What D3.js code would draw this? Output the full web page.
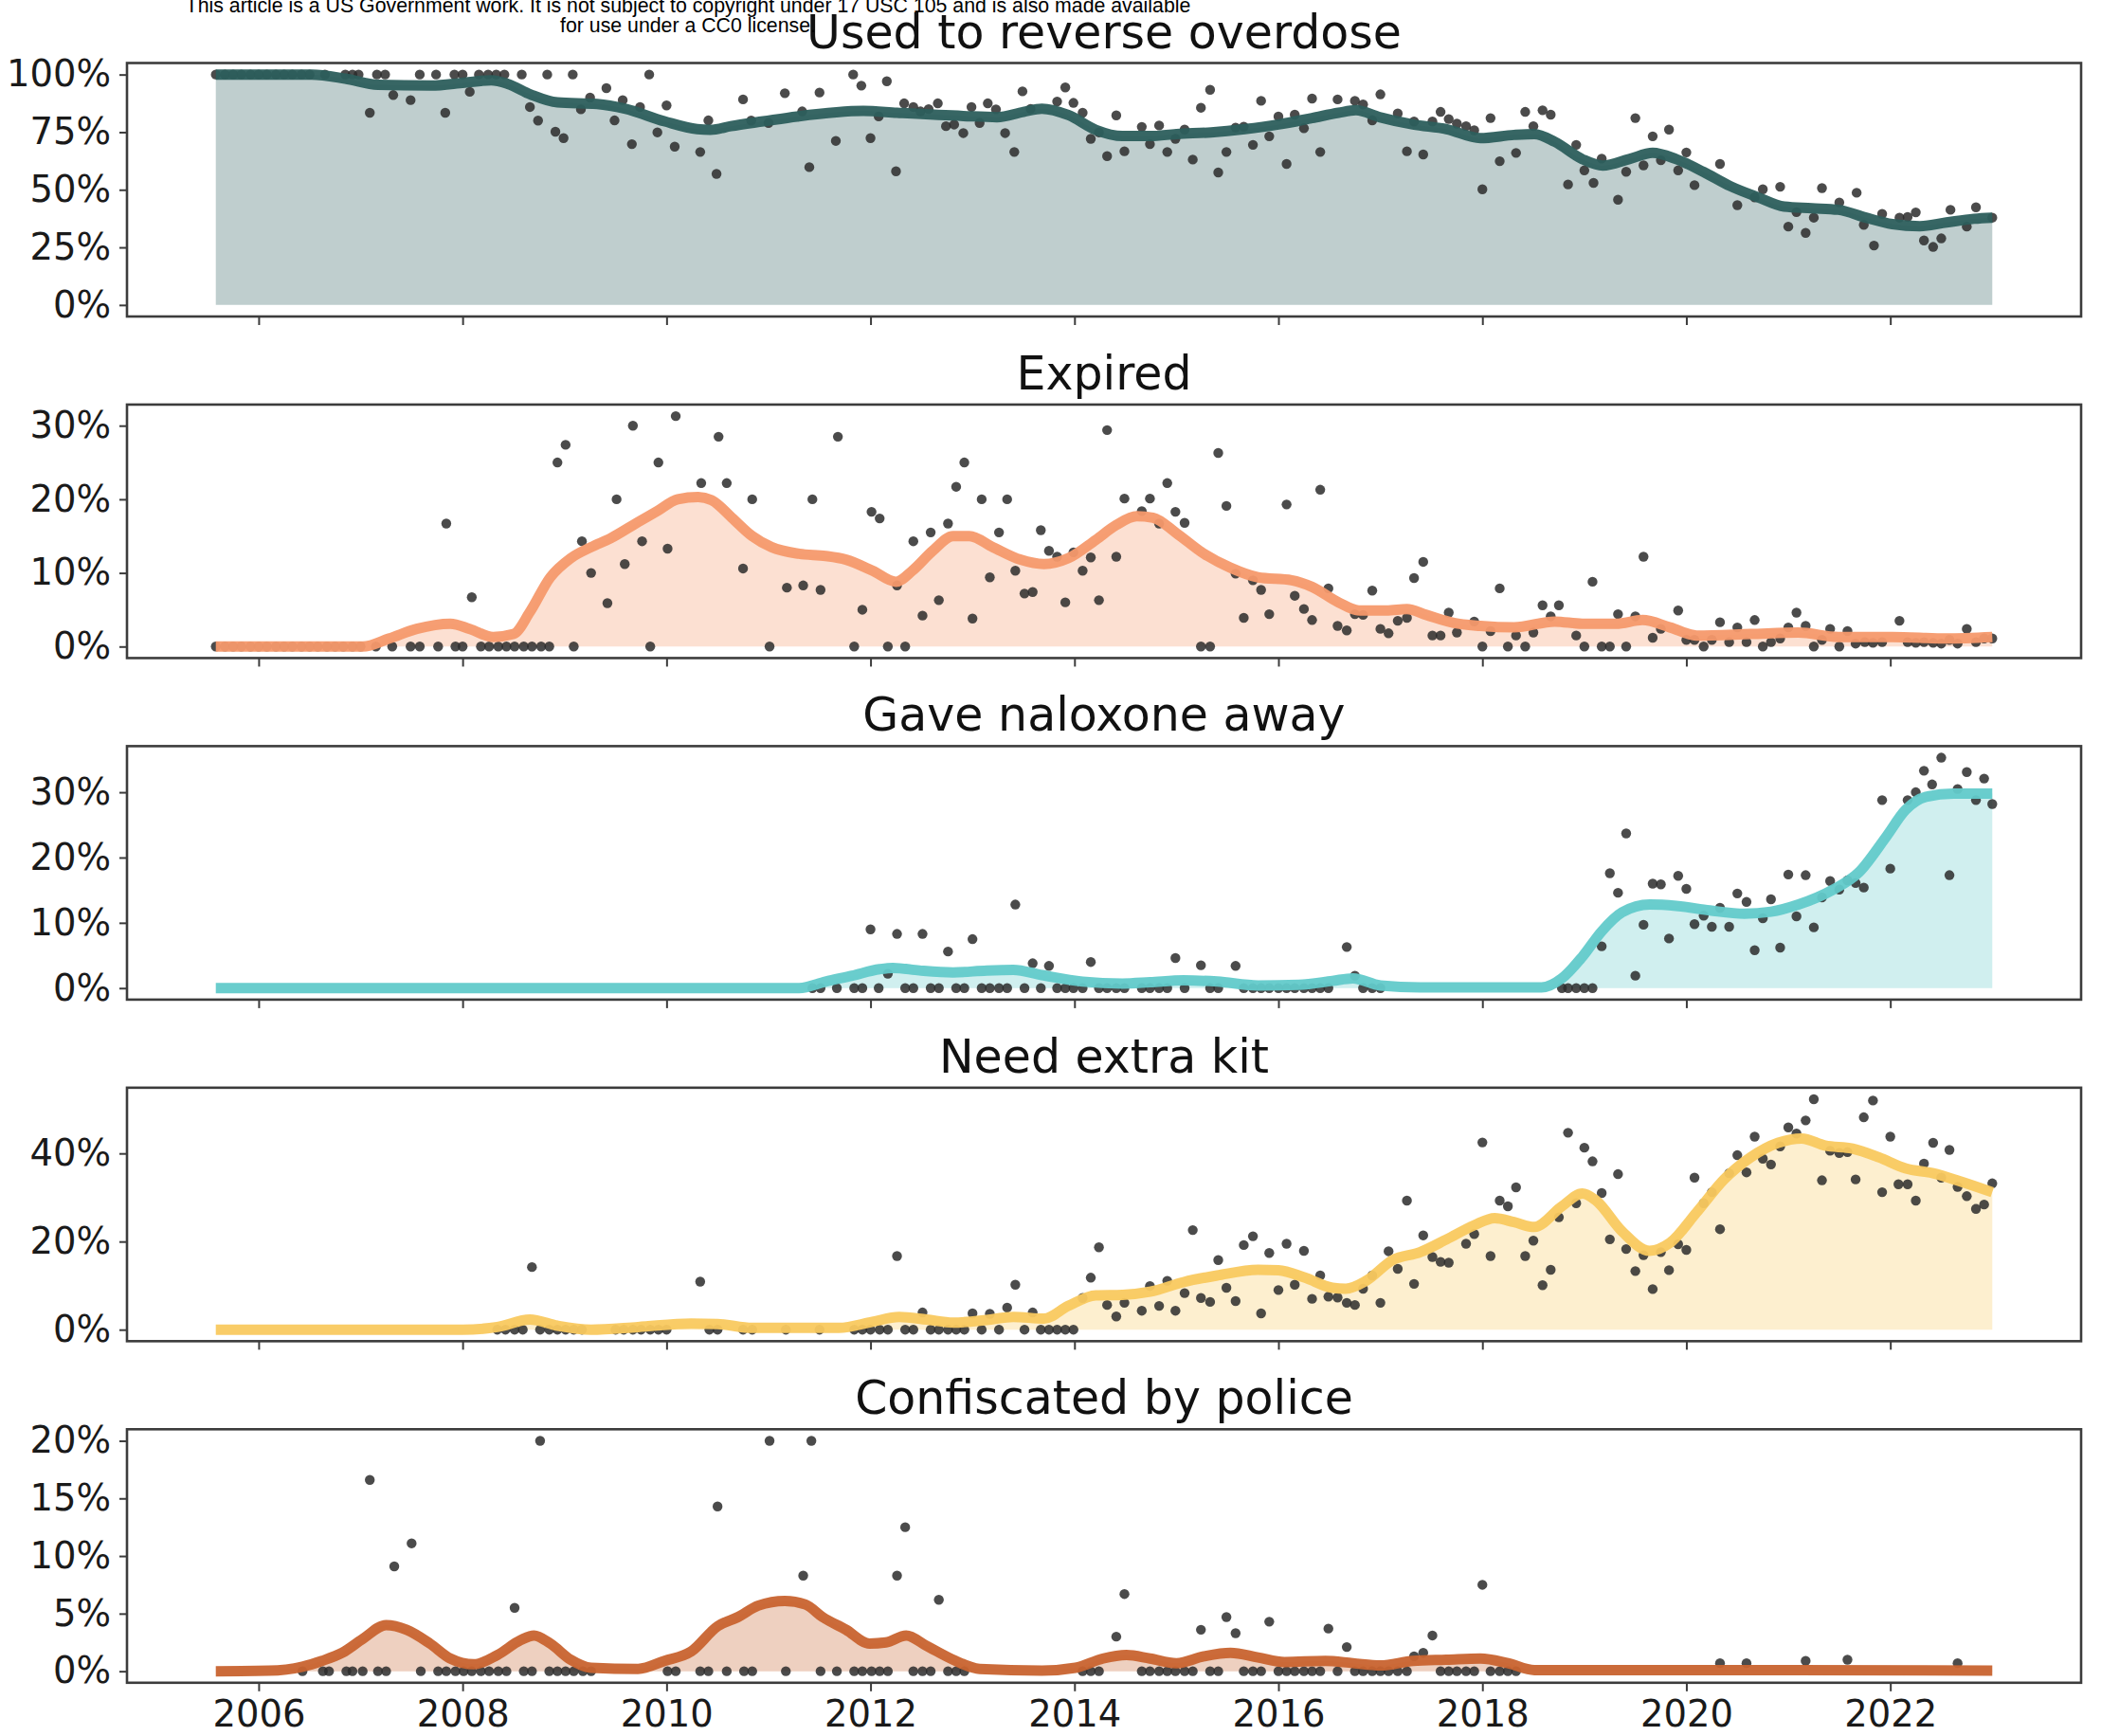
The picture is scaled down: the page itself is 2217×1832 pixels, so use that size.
<!DOCTYPE html>
<html>
<head>
<meta charset="utf-8">
<script src="https://cdn.jsdelivr.net/npm/d3@7"></script>
<style>
  html, body { margin: 0; padding: 0; background: #fff; }
  svg { display: block; }
</style>
</head>
<body>
<svg id="chart" width="2217" height="1832"></svg>
<script>
// ---------------- DATA ----------------
const titles = ["Used to reverse overdose", "Expired", "Gave naloxone away", "Need extra kit", "Confiscated by police"];
const xTicks = [2006, 2008, 2010, 2012, 2014, 2016, 2018, 2020, 2022];
const yTicks1 = [0, 25, 50, 75, 100];
const yTicks2 = [0, 10, 20, 30];
const yTicks3 = [0, 10, 20, 30];
const yTicks4 = [0, 20, 40];
const yTicks5 = [0, 5, 10, 15, 20];
const noteLines = ["This article is a US Government work. It is not subject to copyright under 17 USC 105 and is also made available",
                   "for use under a CC0 license."];

// monthly survey points [year, percent]
const dots1 = [[2005.58,100],[2005.67,100],[2005.75,100],[2005.83,100],[2005.92,100],[2006.0,100],[2006.08,100],[2006.17,100],[2006.25,100],[2006.33,100],[2006.42,100],[2006.5,100],
[2006.65,100],[2006.85,100],[2006.92,100],[2006.98,100],[2007.09,83.4],[2007.16,100],[2007.24,100],[2007.32,91.1],[2007.49,88.9],[2007.58,100],[2007.74,100],[2007.83,83.4],[2007.92,100],[2008.0,100],[2008.07,92.5],[2008.16,100],[2008.25,100],[2008.33,100],[2008.41,100],[2008.58,100],[2008.66,85.9],[2008.74,80.0],[2008.83,100],[2008.91,75.2],[2008.99,72.4],[2009.08,100],[2009.16,84.9],[2009.25,90.0],[2009.41,94.1],[2009.49,80.1],[2009.57,88.9],[2009.66,69.8],[2009.74,85.9],[2009.83,100],[2009.91,74.9],[2010.0,86.6],[2010.08,68.7],[2010.33,66.4],[2010.41,80.1],[2010.49,56.9],[2010.75,89.2],[2010.83,80],[2011.0,79],[2011.16,91.9],[2011.33,84],[2011.4,59.8],[2011.5,92.2],[2011.66,71.2],[2011.83,100],[2011.91,95.2],[2012.0,72.4],[2012.08,81.8],[2012.16,97.1],[2012.25,58.0],[2012.33,87.5],[2012.42,85.9],[2012.49,84],[2012.57,85],[2012.66,87.5],[2012.74,77.6],[2012.82,78.3],[2012.91,74.6],[2012.99,85.9],[2013.07,79],[2013.15,87.5],[2013.23,84.9],[2013.32,74.6],[2013.41,66.4],[2013.49,92.7],[2013.57,85.1],
[2013.83,88.3],[2013.91,94.4],[2013.99,87.7],[2014.08,83.4],[2014.16,72.1],[2014.24,74.9],[2014.32,64.6],[2014.41,82.3],[2014.49,66.7],[2014.66,77.3],[2014.74,69.8],[2014.83,77.9],[2014.91,66.4],[2014.99,72.1],[2015.08,76.1],[2015.16,63.1],[2015.24,85.6],[2015.33,93.4],[2015.41,57.5],[2015.49,66.4],[2015.58,77.0],[2015.66,77.4],[2015.75,69.5],[2015.83,88.6],[2015.91,73.2],[2016.0,81.8],[2016.08,61.2],[2016.16,82.6],[2016.25,76.7],[2016.33,89.6],[2016.41,66.4],[2016.58,89.2],[2016.75,88.6],[2016.83,87.0],[2016.92,80.1],[2017.0,91.4],[2017.17,83.1],[2017.26,66.7],[2017.33,79.6],[2017.42,65.3],[2017.51,79.6],[2017.59,83.8],[2017.67,80.7],[2017.75,78.7],[2017.84,77.6],[2017.92,75.8],[2018.0,50.2],[2018.08,81.1],[2018.17,62.4],[2018.33,66.0],[2018.42,83.8],[2018.5,77.6],[2018.59,84.5],[2018.67,82.6],[2018.84,52.3],[2018.92,69.5],[2019.0,58.4],[2019.09,53.0],[2019.17,63.5],[2019.33,45.7],[2019.41,57.8],[2019.5,81.1],[2019.58,60.6],[2019.67,73.2],[2019.75,62.8],[2019.83,76.1],[2019.92,58.4],[2020.0,66.2],[2020.08,52.0],[2020.33,61.2],[2020.5,43.3],[2020.67,46.7],[2020.75,50.2],[2020.92,51.3],[2021.0,34.0],[2021.08,40.3],[2021.17,31.3],[2021.25,37.9],[2021.33,50.7],[2021.5,44.5],[2021.67,48.7],[2021.74,34.8],[2021.84,25.8],[2021.92,39.5],[2022.09,37.9],[2022.17,38.2],[2022.25,40.2],[2022.33,28.0],[2022.42,25.2],[2022.5,28.9],[2022.59,41.3],[2022.75,34.0],[2022.84,42.4],[2023.0,37.9]];

const dots2 = [[2005.58,0],[2005.67,0],[2005.75,0],[2005.83,0],[2005.92,0],[2006.0,0],[2006.08,0],[2006.17,0],[2006.25,0],[2006.33,0],[2006.42,0],[2006.5,0],[2006.58,0],[2006.67,0],[2006.75,0],[2006.83,0],[2006.92,0],[2007.0,0],
[2007.15,0],[2007.31,0],[2007.49,0],[2007.58,0],[2007.76,0],[2007.84,16.7],[2007.93,0],[2008.0,0],[2008.09,6.7],[2008.18,0],[2008.26,0],[2008.35,0],[2008.43,0],[2008.51,0],[2008.6,0],[2008.68,0],[2008.77,0],[2008.85,0],[2008.93,25.0],[2009.01,27.4],[2009.09,0],[2009.17,14.3],[2009.26,10.0],[2009.42,5.9],[2009.51,20.0],[2009.59,11.2],[2009.67,30.0],[2009.76,14.3],[2009.84,0],[2009.92,25.0],[2010.01,13.3],[2010.09,31.3],[2010.34,22.2],[2010.51,28.5],[2010.59,22.2],[2010.75,10.6],[2010.84,20.0],[2011.01,0],[2011.18,8.0],[2011.34,8.3],[2011.43,20.0],[2011.51,7.7],[2011.68,28.5],[2011.84,0],[2011.92,5.0],[2012.01,18.3],[2012.09,17.4],[2012.17,0],[2012.26,8.3],[2012.34,0],[2012.42,14.3],[2012.51,4.2],[2012.59,15.5],[2012.67,6.3],[2012.76,16.7],[2012.84,21.7],[2012.92,25.0],[2013.0,3.8],[2013.09,20.0],[2013.17,9.4],[2013.26,15.5],[2013.34,20.0],[2013.42,10.3],[2013.51,7.2],[2013.59,7.4],[2013.67,15.8],[2013.75,13.0],[2013.83,12.2],[2013.91,6.0],[2013.99,12.8],[2014.08,10.3],[2014.16,12.1],[2014.24,6.3],[2014.32,29.4],[2014.41,12.2],[2014.49,20.1],[2014.66,18.4],[2014.74,20.1],[2014.83,16.7],[2014.91,22.2],[2014.99,18.3],[2015.08,16.8],[2015.24,0],[2015.33,0],[2015.41,26.3],[2015.49,19.1],[2015.58,9.9],[2015.66,3.9],[2015.75,9.0],[2015.83,7.7],[2015.91,4.4],[2016.08,19.3],[2016.16,6.9],[2016.25,5.1],[2016.33,3.6],[2016.41,21.3],[2016.49,7.9],[2016.58,2.8],[2016.67,2.2],[2016.75,4.4],[2016.83,4.3],[2016.92,7.6],[2017.0,2.4],[2017.08,1.8],[2017.17,3.5],[2017.26,3.9],[2017.33,9.3],[2017.42,11.5],[2017.51,1.5],[2017.59,1.5],[2017.67,4.6],[2017.75,1.9],[2017.92,3.4],[2018.0,0],[2018.08,2.1],[2018.17,7.9],[2018.25,0],[2018.33,1.5],[2018.42,0],[2018.5,1.9],[2018.59,5.6],[2018.67,4.1],[2018.75,5.6],[2018.92,1.5],[2019.0,0],[2019.08,8.8],[2019.17,0],[2019.25,0],[2019.33,4.4],[2019.41,0],[2019.5,4.1],[2019.58,12.2],[2019.67,1.2],[2019.75,2.4],[2019.92,4.9],[2020.0,0.9],[2020.08,0.9],[2020.17,0],[2020.25,0.9],[2020.33,3.3],[2020.42,0.6],[2020.5,2.6],[2020.59,0.6],[2020.67,3.6],[2020.75,0],[2020.83,0.6],[2020.92,1.1],[2021.0,2.6],[2021.08,4.6],[2021.17,2.8],[2021.25,0],[2021.33,0.9],[2021.41,2.4],[2021.5,0],[2021.58,2.1],[2021.66,0.4],[2021.75,0.6],[2021.83,0.5],[2021.92,0.6],[2022.09,3.5],[2022.17,0.6],[2022.25,0.5],[2022.33,0.6],[2022.42,0.5],[2022.5,0.4],[2022.58,0.9],[2022.66,0.4],[2022.75,2.4],[2022.84,0.6],[2022.92,1.1],[2023.0,1.1]];

const dots3 = [[2011.43,0],[2011.51,0],[2011.67,0],[2011.84,0],[2011.92,0],[2012.0,9.0],[2012.08,0],[2012.17,2.2],[2012.26,8.3],[2012.34,0],[2012.42,0],[2012.51,8.3],[2012.59,0],[2012.67,0],[2012.76,5.6],[2012.84,0],[2012.92,0],[2013.0,7.5],[2013.09,0],[2013.17,0],[2013.26,0],[2013.34,0],[2013.42,12.8],[2013.51,0],[2013.59,3.8],[2013.67,0],[2013.75,3.4],[2013.83,0],[2013.91,0],[2013.99,0],[2014.08,0],[2014.16,4.0],[2014.24,0],[2014.32,0],[2014.41,0],[2014.49,0],[2014.66,0],[2014.74,0],[2014.83,0],[2014.91,0],[2014.99,4.6],[2015.08,0],[2015.24,3.5],[2015.33,0],[2015.41,0],[2015.58,3.4],[2015.66,0],[2015.75,0],[2015.83,0],[2015.91,0],[2016.0,0],[2016.08,0],[2016.16,0],[2016.25,0],[2016.33,0],[2016.41,0],[2016.49,0],[2016.67,6.3],[2016.75,1.9],[2016.83,0],[2016.92,0],[2017.0,0],[2018.78,0],[2018.84,0],[2018.92,0],[2019.0,0],[2019.08,0],[2019.17,6.4],[2019.25,17.6],[2019.33,14.6],[2019.41,23.7],[2019.5,1.9],[2019.58,9.7],[2019.67,16.0],[2019.75,15.9],[2019.83,7.6],[2019.92,17.2],[2020.0,15.2],[2020.08,9.8],[2020.17,11.1],[2020.25,9.4],[2020.33,12.3],[2020.42,9.4],[2020.5,14.5],[2020.59,13.2],[2020.67,5.8],[2020.75,10.7],[2020.83,13.6],[2020.92,6.2],[2021.0,17.4],[2021.08,11.0],[2021.17,17.3],[2021.25,9.3],[2021.33,13.9],[2021.41,16.4],[2021.5,15.1],[2021.58,16.5],[2021.66,16.1],[2021.74,15.4],[2021.92,28.8],[2022.0,18.3],[2022.17,28.8],[2022.25,30.0],[2022.33,33.3],[2022.41,31.2],[2022.5,35.3],[2022.58,17.3],[2022.66,30.5],[2022.75,33.1],[2022.84,28.8],[2022.92,32.1],[2023.0,28.2]];

const dots4 = [[2008.34,0],[2008.42,0],[2008.51,0],[2008.59,0],[2008.68,14.2],[2008.76,0],[2008.85,0],[2008.93,0],[2009.01,0],[2009.09,0],[2009.17,0],[2009.5,0],[2009.58,0],[2009.67,0],[2009.75,0],[2009.84,0],[2009.92,0],[2010.0,0],[2010.33,10.9],[2010.42,0],[2010.5,0],[2010.75,0],[2010.84,0],[2011.17,0],[2011.5,0],[2011.84,0],[2011.92,0],[2012.0,0],[2012.09,0],[2012.17,0],[2012.26,16.7],[2012.34,0],[2012.42,0],[2012.51,3.9],[2012.59,0],[2012.67,0],[2012.76,0],[2012.84,0],[2012.92,0],[2013.0,3.7],[2013.09,0],[2013.17,3.6],[2013.26,0],[2013.34,5.0],[2013.42,10.2],[2013.51,0],[2013.59,3.9],[2013.67,0],[2013.75,0],[2013.83,0],[2013.91,0],[2013.99,0],
[2014.08,7.2],[2014.16,11.8],[2014.24,18.7],[2014.32,5.6],[2014.41,3.0],[2014.49,6.1],[2014.66,4.3],[2014.74,9.9],[2014.83,5.4],[2014.91,11.1],[2014.99,4.3],[2015.08,8.3],[2015.16,22.6],[2015.24,7.2],[2015.33,6.3],[2015.41,15.8],[2015.49,9.5],[2015.58,6.5],[2015.66,19.2],[2015.75,21.2],[2015.83,3.7],[2015.91,17.4],[2016.0,9.0],[2016.08,19.5],[2016.16,10.2],[2016.25,17.9],[2016.33,7.0],[2016.41,12.3],[2016.49,7.5],[2016.58,7.3],[2016.67,6.1],[2016.75,5.6],[2016.83,9.3],[2016.92,12.3],[2017.0,6.1],[2017.08,17.8],[2017.17,13.8],[2017.26,29.3],[2017.33,10.4],[2017.42,21.4],[2017.51,16.5],[2017.59,15.4],[2017.67,15.2],[2017.84,19.5],[2017.92,21.7],[2018.0,42.5],[2018.08,16.7],[2018.17,29.3],[2018.25,28.0],[2018.33,32.3],[2018.42,16.7],[2018.5,20.2],[2018.59,10.1],[2018.67,13.6],[2018.75,25.5],[2018.84,44.7],[2018.92,28.7],[2019.0,41.3],[2019.08,38.2],[2019.17,31.0],[2019.25,20.5],[2019.33,35.3],[2019.41,18.3],[2019.5,13.3],[2019.58,16.9],[2019.67,9.2],[2019.75,17.6],[2019.83,13.5],[2019.92,19.4],[2020.0,18.1],[2020.08,34.5],[2020.17,28.7],[2020.25,31.2],[2020.33,22.8],[2020.42,35.5],[2020.5,39.6],[2020.59,35.7],[2020.67,43.8],[2020.75,38.8],[2020.83,37.5],[2020.92,41.6],[2021.0,45.9],[2021.08,44.5],[2021.17,47.5],[2021.25,52.3],[2021.33,33.9],[2021.41,40.6],[2021.5,40.1],[2021.58,40.3],[2021.66,34.1],[2021.74,48.2],[2021.83,52.0],[2021.92,31.2],[2022.0,43.8],[2022.08,33.0],[2022.17,33.0],[2022.25,29.3],[2022.33,37.7],[2022.42,42.4],[2022.5,34.5],[2022.58,40.8],[2022.66,32.4],[2022.75,30.3],[2022.84,27.4],[2022.92,28.4],[2023.0,33.2]];

const dots5 = [[2006.43,0],[2006.63,0],[2006.69,0],[2006.86,0],[2006.92,0],[2007.02,0],[2007.09,16.6],[2007.17,0],[2007.25,0],[2007.33,9.1],[2007.5,11.1],[2007.59,0],[2007.76,0],[2007.84,0],[2007.93,0],[2008.01,0],[2008.09,0],[2008.18,0],[2008.26,0],[2008.35,0],[2008.43,0],[2008.51,5.5],[2008.6,0],[2008.68,0],[2008.76,20.0],[2008.85,0],[2008.93,0],[2009.01,0],[2009.09,0],[2009.18,0],[2009.26,0],[2010.01,0],[2010.09,0],[2010.33,0],[2010.41,0],[2010.5,14.3],[2010.59,0],[2010.76,0],[2010.84,0],[2011.01,20.0],[2011.17,0],[2011.34,8.3],[2011.42,20.0],[2011.51,0],[2011.67,0],[2011.84,0],[2011.92,0],[2012.01,0],[2012.09,0],[2012.17,0],[2012.26,8.3],[2012.34,12.5],[2012.42,0],[2012.51,0],[2012.59,0],[2012.67,6.2],[2012.76,0],[2012.84,0],[2012.92,0],
[2014.08,0],[2014.16,0],[2014.24,0],[2014.41,3.0],[2014.49,6.7],[2014.66,0],[2014.74,0],[2014.83,0],[2014.91,0],[2014.99,0],[2015.08,0],[2015.16,0],[2015.24,3.6],[2015.33,0],[2015.41,0],[2015.49,4.7],[2015.58,3.3],[2015.66,0],[2015.75,0],[2015.83,0],[2015.91,4.3],[2016.0,0],[2016.08,0],[2016.16,0],[2016.25,0],[2016.33,0],[2016.41,0],[2016.49,3.7],[2016.58,0],[2016.67,2.1],[2016.75,0],[2016.83,0],[2016.92,0],[2017.0,0],[2017.08,0],[2017.17,0],[2017.26,0],[2017.33,1.3],[2017.42,1.6],[2017.51,3.1],[2017.59,0],[2017.67,0],[2017.75,0],[2017.84,0],[2017.92,0],[2018.0,7.5],[2018.08,0],[2018.17,0],[2018.25,0],[2018.33,0],[2020.33,0.7],[2020.59,0.7],[2021.17,0.9],[2021.58,1.0],[2022.66,0.7]];

// smoothed trend [year, percent]
const trend1 = [[2005.58,100],[2006.52,100],[2006.85,98.2],[2007.17,95.5],[2007.69,95.2],[2008.02,96.5],[2008.28,97.5],[2008.44,96.0],[2008.67,91.3],[2008.93,87.9],[2009.32,87.2],[2009.59,85.2],[2009.98,79.7],[2010.3,76.3],[2010.43,76.0],[2010.63,77.6],[2010.95,79.7],[2011.28,81.8],[2011.93,84.2],[2012.26,83.4],[2012.91,82.0],[2013.24,81.5],[2013.5,83.8],[2013.68,85.2],[2013.94,82.4],[2014.21,76.0],[2014.47,73.3],[2014.74,73.3],[2015.0,74.2],[2015.34,74.9],[2015.67,76.3],[2016.0,78.3],[2016.33,81.1],[2016.59,83.4],[2016.76,84.5],[2016.99,81.5],[2017.32,78.3],[2017.65,76.3],[2017.98,72.4],[2018.31,73.8],[2018.51,74.2],[2018.71,70.8],[2018.98,63.3],[2019.18,60.5],[2019.44,63.3],[2019.67,66.0],[2019.9,63.3],[2020.17,57.7],[2020.43,51.6],[2020.7,46.8],[2020.96,42.7],[2021.23,42.0],[2021.49,41.3],[2021.76,37.9],[2022.02,35.1],[2022.29,34.2],[2022.55,35.8],[2022.82,37.4],[2023.0,37.9]];
const trend2 = [[2005.58,0],[2007.02,0],[2007.28,1.1],[2007.55,2.4],[2007.88,3.1],[2008.07,2.4],[2008.3,1.3],[2008.5,1.7],[2008.66,4.7],[2008.86,9.4],[2009.06,12.0],[2009.26,13.5],[2009.45,14.7],[2009.72,16.9],[2009.91,18.4],[2010.11,20.0],[2010.31,20.3],[2010.44,19.9],[2010.64,17.5],[2010.84,15.0],[2011.03,13.5],[2011.3,12.6],[2011.56,12.3],[2011.76,11.8],[2012.02,10.3],[2012.25,8.8],[2012.41,10.3],[2012.61,13.0],[2012.81,15.0],[2012.97,15.0],[2013.2,13.5],[2013.47,11.8],[2013.7,11.2],[2013.94,12.0],[2014.21,14.5],[2014.41,16.5],[2014.61,17.7],[2014.77,17.5],[2015.0,15.4],[2015.27,12.6],[2015.53,10.7],[2015.8,9.4],[2016.13,9.0],[2016.33,8.1],[2016.59,6.0],[2016.79,4.9],[2017.06,4.9],[2017.26,5.1],[2017.45,4.3],[2017.72,3.2],[2017.98,2.8],[2018.31,2.6],[2018.71,3.4],[2018.98,3.1],[2019.31,3.1],[2019.57,3.6],[2019.84,2.6],[2020.1,1.5],[2020.63,1.7],[2021.1,1.9],[2021.49,1.3],[2022.02,1.3],[2022.55,1.1],[2023.0,1.3]];
const trend3 = [[2005.58,0],[2011.3,0],[2011.56,1.0],[2011.82,1.9],[2012.09,2.9],[2012.22,3.1],[2012.48,2.7],[2012.81,2.4],[2013.14,2.7],[2013.4,2.8],[2013.68,2.0],[2014.08,1.0],[2014.47,0.7],[2014.74,0.9],[2015.07,1.2],[2015.4,1.0],[2015.8,0.4],[2016.2,0.5],[2016.53,1.1],[2016.73,1.5],[2017.0,0.4],[2017.39,0.1],[2018.58,0.1],[2018.78,1.5],[2018.98,4.8],[2019.17,8.7],[2019.37,11.6],[2019.64,12.8],[2019.9,12.6],[2020.23,11.9],[2020.57,11.4],[2020.83,11.7],[2021.1,12.8],[2021.43,15.0],[2021.69,17.7],[2021.96,23.2],[2022.15,27.3],[2022.35,29.3],[2022.62,29.8],[2023.0,29.8]];
const trend4 = [[2005.58,0],[2008.0,0],[2008.34,0.6],[2008.66,2.3],[2008.93,0.9],[2009.26,0],[2009.72,0.6],[2010.24,1.4],[2010.5,1.3],[2010.84,0.4],[2011.69,0.4],[2012.02,1.8],[2012.28,2.9],[2012.55,2.3],[2012.81,1.6],[2013.14,2.2],[2013.4,2.9],[2013.7,2.5],[2013.94,5.4],[2014.21,7.8],[2014.47,7.9],[2014.74,8.6],[2015.07,10.8],[2015.4,12.3],[2015.8,13.6],[2016.0,13.5],[2016.26,11.8],[2016.53,9.5],[2016.66,9.3],[2016.86,11.1],[2017.12,15.8],[2017.39,17.6],[2017.65,20.5],[2017.92,23.7],[2018.12,25.3],[2018.31,24.4],[2018.51,23.3],[2018.78,28.0],[2018.98,30.9],[2019.11,29.4],[2019.37,22.3],[2019.64,17.9],[2019.84,19.7],[2020.1,26.6],[2020.37,34.1],[2020.63,39.1],[2020.9,42.4],[2021.13,43.4],[2021.36,41.8],[2021.63,41.1],[2021.89,39.1],[2022.15,36.6],[2022.42,35.5],[2022.68,33.7],[2023.0,31.2]];
const trend5 = [[2005.58,0],[2006.1,0.05],[2006.43,0.4],[2006.62,0.9],[2006.82,1.6],[2007.02,2.8],[2007.25,4.0],[2007.45,3.6],[2007.68,2.4],[2007.88,1.1],[2008.11,0.6],[2008.34,1.4],[2008.57,2.7],[2008.7,3.1],[2008.86,2.4],[2009.06,1.0],[2009.26,0.3],[2009.72,0.2],[2009.98,0.9],[2010.24,1.7],[2010.5,3.9],[2010.7,4.7],[2010.9,5.7],[2011.16,6.1],[2011.36,5.8],[2011.53,4.7],[2011.76,3.6],[2011.99,2.4],[2012.15,2.5],[2012.35,3.1],[2012.55,2.2],[2012.81,1.0],[2013.07,0.2],[2013.68,0.05],[2014.01,0.3],[2014.28,1.1],[2014.51,1.4],[2014.74,1.1],[2015.0,0.7],[2015.27,1.3],[2015.53,1.6],[2015.8,1.2],[2016.06,0.8],[2016.46,0.9],[2016.73,0.7],[2017.0,0.5],[2017.32,0.9],[2017.65,1.0],[2017.98,1.1],[2018.25,0.7],[2018.51,0.1],[2020.3,0.1],[2020.96,0.1],[2023.0,0.05]];

// ---------------- STYLE / LAYOUT ----------------
const colors = ["#2c5e5c", "#f6996b", "#62caca", "#f9c95f", "#c8632f"];
const layout = { left: 134, right: 2196, top0: 66.5, step: 360.45, height: 267.5 };
const tickFont = "DejaVu Sans, Verdana, sans-serif";

const panels = [
  { title: titles[0], dots: dots1, trend: trend1, yTicks: yTicks1, color: colors[0] },
  { title: titles[1], dots: dots2, trend: trend2, yTicks: yTicks2, color: colors[1] },
  { title: titles[2], dots: dots3, trend: trend3, yTicks: yTicks3, color: colors[2] },
  { title: titles[3], dots: dots4, trend: trend4, yTicks: yTicks4, color: colors[3] },
  { title: titles[4], dots: dots5, trend: trend5, yTicks: yTicks5, color: colors[4] }
];

const svg = d3.select("#chart");

// shared x scale with matplotlib-like 5% margins
const allX = panels.flatMap(p => p.dots.map(d => d[0]).concat(p.trend.map(d => d[0])));
const [xMin, xMax] = d3.extent(allX);
const xPad = (xMax - xMin) * 0.05;
const x = d3.scaleLinear().domain([xMin - xPad, xMax + xPad]).range([layout.left, layout.right]);

panels.forEach((p, i) => {
  const top = layout.top0 + i * layout.step;
  const bottom = top + layout.height;
  const vMax = d3.max(p.dots, d => d[1]);
  const yPad = vMax * 0.05;
  const y = d3.scaleLinear().domain([-yPad, vMax + yPad]).range([bottom, top]);

  const g = svg.append("g");

  const curve = d3.curveMonotoneX;
  g.append("path").datum(p.trend)
    .attr("d", d3.area().x(d => x(d[0])).y0(y(0)).y1(d => y(d[1])).curve(curve))
    .attr("fill", p.color).attr("fill-opacity", 0.3);

  g.append("g").selectAll("circle").data(p.dots).join("circle")
    .attr("cx", d => x(d[0])).attr("cy", d => y(d[1]))
    .attr("r", 5.2).attr("fill", "#2b2b2b").attr("fill-opacity", 0.85);

  g.append("path").datum(p.trend)
    .attr("d", d3.line().x(d => x(d[0])).y(d => y(d[1])).curve(curve))
    .attr("fill", "none").attr("stroke", p.color).attr("stroke-width", 11)
    .attr("stroke-opacity", 0.95).attr("stroke-linejoin", "round");

  // frame
  g.append("rect").attr("x", layout.left).attr("y", top)
    .attr("width", layout.right - layout.left).attr("height", layout.height)
    .attr("fill", "none").attr("stroke", "#3c3c3c").attr("stroke-width", 2.6);

  // y axis
  const ya = g.append("g").attr("transform", `translate(${layout.left},0)`)
    .call(d3.axisLeft(y).tickValues(p.yTicks).tickFormat(d => d + "%").tickSize(8).tickPadding(9));
  ya.select(".domain").remove();
  ya.selectAll("line").attr("stroke", "#3c3c3c").attr("stroke-width", 2);
  ya.selectAll("text").attr("font-family", tickFont).attr("font-size", 38.5).attr("fill", "#1a1a1a");

  // x axis
  const last = i === panels.length - 1;
  const xa = g.append("g").attr("transform", `translate(0,${bottom})`)
    .call(d3.axisBottom(x).tickValues(xTicks).tickFormat(last ? d3.format("d") : () => "").tickSize(9).tickPadding(10));
  xa.select(".domain").remove();
  xa.selectAll("line").attr("stroke", "#3c3c3c").attr("stroke-width", 2);
  xa.selectAll("text").attr("font-family", tickFont).attr("font-size", 38.5).attr("fill", "#1a1a1a");

  // title
  g.append("text").attr("x", (layout.left + layout.right) / 2).attr("y", top - 16)
    .attr("text-anchor", "middle").attr("font-family", tickFont)
    .attr("font-size", 49).attr("fill", "#111").text(p.title);
});

// note text at top (drawn last, over the first title as in the source)
svg.append("g").selectAll("text").data(noteLines).join("text")
  .attr("x", 726).attr("y", (d, i) => 12.5 + i * 21.5)
  .attr("text-anchor", "middle")
  .attr("font-family", "Liberation Sans, Arial, sans-serif")
  .attr("font-size", 21.3).attr("fill", "#000")
  .text(d => d);
</script>
</body>
</html>
